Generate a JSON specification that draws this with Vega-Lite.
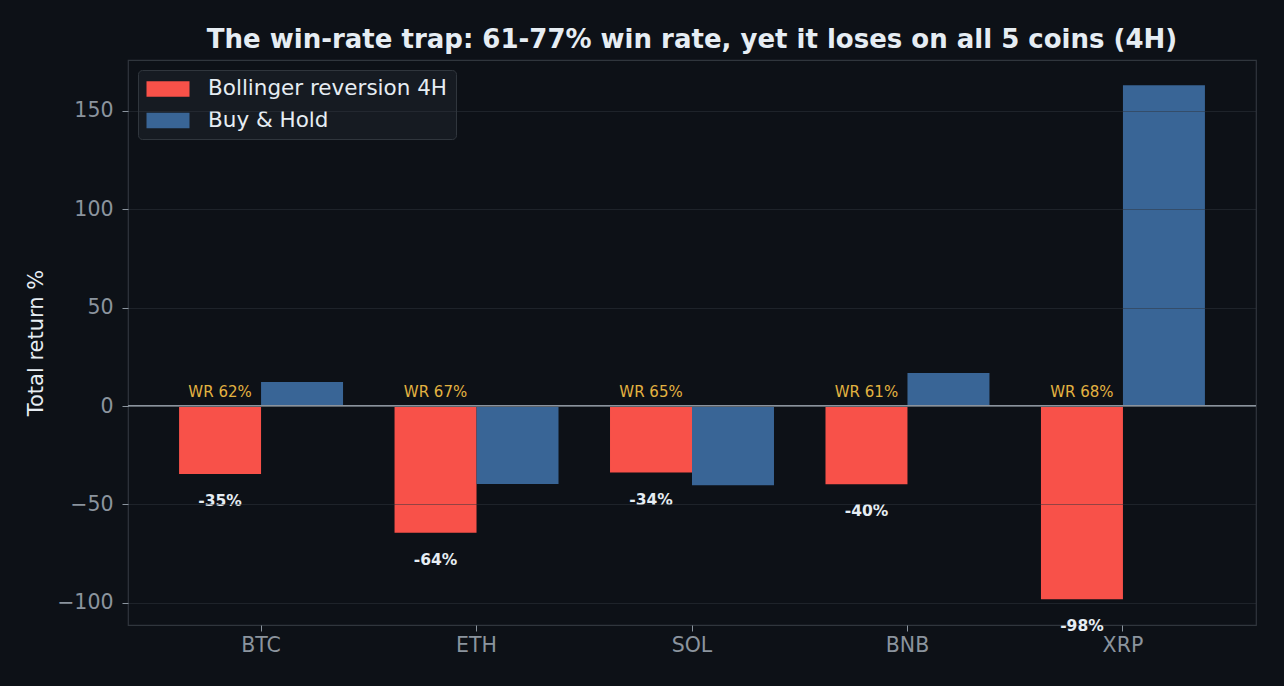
{
  "$schema": "https://vega.github.io/schema/vega-lite/v6.json",
  "width": 1128,
  "height": 565,
  "autosize": "none",
  "padding": {"left": 128, "top": 60, "right": 28, "bottom": 61},
  "background": "#0d1117",
  "title": {
    "text": "The win-rate trap: 61-77% win rate, yet it loses on all 5 coins (4H)",
    "font": "DejaVu Sans",
    "fontSize": 26,
    "fontWeight": "bold",
    "color": "#e6edf3",
    "anchor": "middle",
    "frame": "group",
    "baseline": "alphabetic",
    "offset": -14
  },
  "data": {
    "values": [
      {"coin": "BTC", "series": "Bollinger reversion 4H", "ret": -34.6, "label": "-35%", "wr": "WR 62%"},
      {"coin": "BTC", "series": "Buy & Hold", "ret": 12.2},
      {"coin": "ETH", "series": "Bollinger reversion 4H", "ret": -64.4, "label": "-64%", "wr": "WR 67%"},
      {"coin": "ETH", "series": "Buy & Hold", "ret": -39.6},
      {"coin": "SOL", "series": "Bollinger reversion 4H", "ret": -33.8, "label": "-34%", "wr": "WR 65%"},
      {"coin": "SOL", "series": "Buy & Hold", "ret": -40.2},
      {"coin": "BNB", "series": "Bollinger reversion 4H", "ret": -39.7, "label": "-40%", "wr": "WR 61%"},
      {"coin": "BNB", "series": "Buy & Hold", "ret": 16.8},
      {"coin": "XRP", "series": "Bollinger reversion 4H", "ret": -98.2, "label": "-98%", "wr": "WR 68%"},
      {"coin": "XRP", "series": "Buy & Hold", "ret": 163.1}
    ]
  },
  "encoding": {
    "x": {
      "field": "coin",
      "type": "nominal",
      "sort": ["BTC", "ETH", "SOL", "BNB", "XRP"],
      "scale": {"paddingInner": 0.239, "paddingOuter": 0.237},
      "axis": {
        "title": null,
        "labelAngle": 0,
        "labelFont": "DejaVu Sans",
        "labelFontSize": 20.5,
        "labelColor": "#8b949e",
        "labelPadding": 4,
        "tickColor": "#8b949e",
        "tickSize": 6,
        "domain": false,
        "grid": false
      }
    },
    "xOffset": {
      "field": "series",
      "type": "nominal",
      "sort": ["Bollinger reversion 4H", "Buy & Hold"],
      "scale": {"paddingInner": 0, "paddingOuter": 0}
    }
  },
  "layer": [
    {
      "mark": {"type": "bar", "stroke": null},
      "encoding": {
        "y": {
          "field": "ret",
          "type": "quantitative",
          "scale": {"domain": [-111.3, 175.9], "nice": false, "zero": false},
          "axis": {
            "title": "Total return %",
            "titleFont": "DejaVu Sans",
            "titleFontSize": 21,
            "titleFontWeight": "normal",
            "titleColor": "#e6edf3",
            "titlePadding": 10,
            "values": [-100, -50, 0, 50, 100, 150],
            "labelFont": "DejaVu Sans",
            "labelFontSize": 20.5,
            "labelColor": "#8b949e",
            "labelPadding": 9,
            "tickColor": "#8b949e",
            "tickSize": 6,
            "domain": false,
            "grid": true,
            "gridColor": "#30363d",
            "gridOpacity": 0.5,
            "gridWidth": 1,
            "zindex": 1
          }
        },
        "color": {
          "field": "series",
          "type": "nominal",
          "scale": {
            "domain": ["Bollinger reversion 4H", "Buy & Hold"],
            "range": ["#f85149", "#396596"]
          },
          "legend": {
            "title": null,
            "orient": "none",
            "legendX": 10,
            "legendY": 10,
            "fillColor": "#161b22",
            "strokeColor": "#30363d",
            "cornerRadius": 4,
            "padding": 8,
            "symbolType": "M-2,-0.73H2V0.73H-2Z",
            "symbolSize": 462,
            "symbolOffset": 11,
            "symbolStrokeWidth": 0,
            "symbolOpacity": 1,
            "labelFont": "DejaVu Sans",
            "labelFontSize": 21.5,
            "labelColor": "#e6edf3",
            "labelOffset": 29,
            "labelLimit": 400,
            "rowPadding": 9.5
          }
        }
      }
    },
    {
      "mark": {"type": "rule", "color": "#8b949e", "strokeWidth": 1.3},
      "encoding": {
        "y": {"datum": 0, "type": "quantitative"},
        "x": {"value": 0},
        "x2": {"value": 1128},
        "xOffset": null
      }
    },
    {
      "transform": [{"filter": "datum.series === 'Bollinger reversion 4H'"}],
      "mark": {
        "type": "text",
        "font": "DejaVu Sans",
        "fontSize": 15.5,
        "fontWeight": "bold",
        "color": "#e6edf3",
        "baseline": "middle",
        "dy": 27
      },
      "encoding": {
        "y": {"field": "ret", "type": "quantitative"},
        "text": {"field": "label"}
      }
    },
    {
      "transform": [{"filter": "datum.series === 'Bollinger reversion 4H'"}],
      "mark": {
        "type": "text",
        "font": "DejaVu Sans",
        "fontSize": 15,
        "color": "#e3b341",
        "baseline": "middle",
        "dy": -14
      },
      "encoding": {
        "y": {"datum": 0, "type": "quantitative"},
        "text": {"field": "wr"}
      }
    }
  ],
  "config": {
    "view": {"stroke": "#30363d", "strokeWidth": 1.2},
    "axis": {"labelFont": "DejaVu Sans"}
  }
}
